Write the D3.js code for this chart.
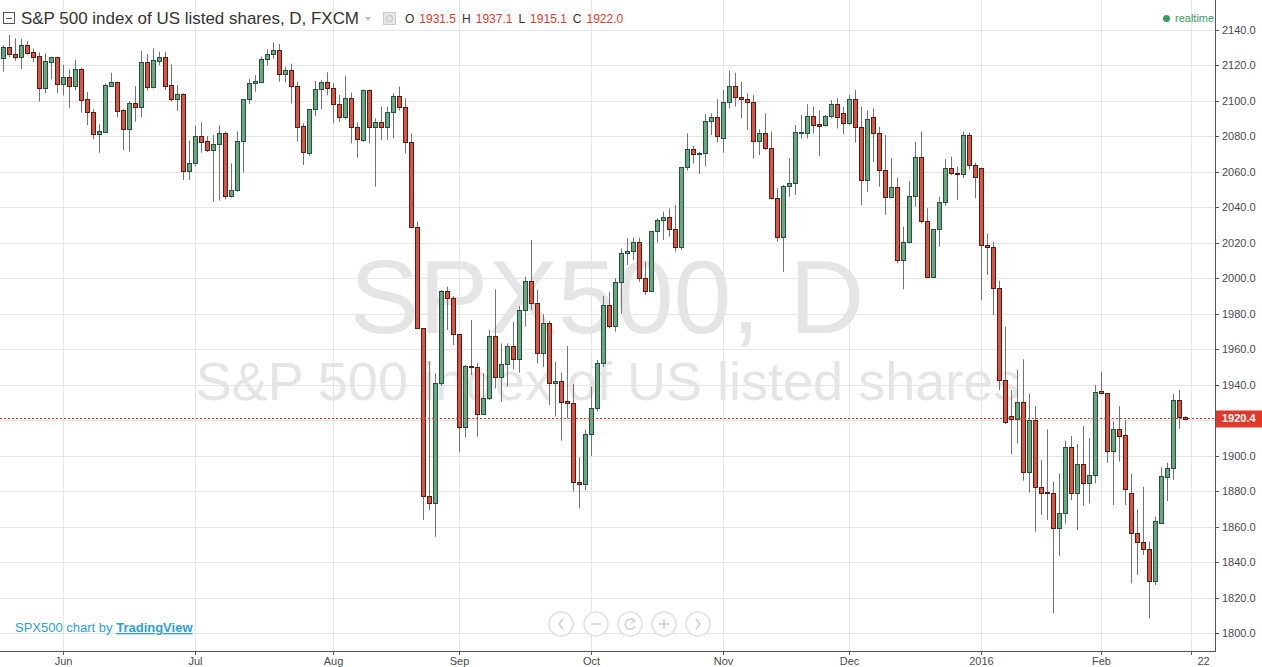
<!DOCTYPE html>
<html><head><meta charset="utf-8">
<script src="https://cdn.jsdelivr.net/npm/d3@7/dist/d3.min.js"></script>
<style>
html,body{margin:0;padding:0;background:#fff;overflow:hidden}
svg{display:block;font-family:"Liberation Sans",Arial,sans-serif}
</style></head><body>
<svg id="c" width="1262" height="667"></svg>
<script>
// ---- data (daily candles, index 0 = 18 May 2015 ... 197 = 19 Feb 2016) ----
const openV=[2124.0,2130.2,2126.5,2124.6,2131.5,2127.4,2125.2,2107.5,2122.1,2124.6,
2109.4,2113.3,2108.6,2117.8,2100.9,2093.8,2081.5,2082.7,2108.6,2110.5,
2094.7,2084.4,2098.8,2096.8,2121.8,2108.0,2122.7,2124.6,2108.8,2101.3,
2103.7,2060.7,2064.8,2080.0,2077.2,2072.5,2075.5,2081.7,2046.6,2049.6,
2077.4,2100.9,2109.9,2110.9,2123.5,2126.3,2128.7,2115.0,2117.3,2108.2,
2085.7,2070.8,2095.3,2106.5,2110.5,2107.1,2098.3,2090.8,2101.5,2085.1,
2078.0,2106.2,2085.5,2088.3,2085.1,2094.0,2102.8,2096.4,2076.7,2029.1,
1971.8,1877.2,1873.1,1940.8,1992.8,1988.7,1968.4,1916.0,1950.7,1949.8,
1923.3,1932.3,1967.5,1944.1,1951.5,1961.6,1954.3,1982.0,1998.5,1985.9,
1957.7,1974.6,1940.8,1942.3,1930.8,1929.5,1884.9,1883.8,1912.2,1926.7,
1952.0,1984.9,1973.3,1997.7,2014.1,2015.4,2020.3,2000.0,1993.0,2026.7,
2032.9,2034.7,2027.6,2017.4,2062.6,2072.9,2069.9,2070.4,2088.7,2090.8,
2078.9,2099.6,2108.4,2102.0,2100.9,2099.2,2077.6,2081.7,2073.3,2045.1,
2023.5,2052.0,2053.5,2082.3,2082.1,2091.5,2087.0,2086.4,2091.5,2098.3,
2093.0,2087.4,2100.9,2085.1,2055.4,2090.7,2082.1,2061.1,2046.0,2051.3,
2010.3,2020.6,2046.4,2068.2,2032.1,2000.9,2027.6,2043.2,2062.0,2059.5,
2058.8,2080.8,2063.9,2062.4,2018.8,2017.8,1994.3,1942.6,1922.3,1920.4,
1930.4,1891.0,1920.1,1882.1,1879.5,1879.1,1859.0,1867.8,1905.1,1878.7,
1895.1,1884.4,1888.9,1936.3,1935.1,1902.8,1914.8,1911.5,1878.7,1856.6,
1851.5,1847.2,1829.5,1862.2,1888.1,1892.9,1931.5,1922.0];
const highV=[2131.5,2137.2,2135.3,2134.9,2133.8,2129.5,2127.4,2126.8,2125.0,2125.0,
2120.3,2117.8,2123.1,2118.8,2105.0,2095.5,2086.8,2109.9,2115.9,2110.9,
2095.5,2100.0,2108.4,2128.3,2126.3,2129.7,2127.8,2127.8,2120.6,2109.0,
2104.3,2077.6,2086.1,2087.9,2080.2,2080.8,2086.2,2082.7,2064.8,2082.7,
2101.1,2112.4,2114.6,2125.0,2129.1,2133.0,2132.1,2119.3,2121.0,2110.9,
2087.4,2095.5,2111.2,2111.8,2116.1,2109.9,2103.3,2114.2,2104.7,2087.9,
2106.5,2106.5,2090.2,2096.8,2096.8,2104.3,2108.1,2101.5,2081.7,2031.9,
1971.8,1953.0,1946.4,1993.4,1995.3,1990.0,1968.4,1951.1,1976.5,1952.2,
1946.4,1970.9,1993.8,1963.3,1963.3,1975.5,1984.4,2000.9,2021.6,1993.4,
1979.9,1976.1,1953.0,1946.8,1961.8,1940.4,1899.0,1914.8,1938.9,1954.0,
1990.0,1992.4,2000.0,2016.9,2022.5,2022.9,2022.9,2009.4,2026.7,2033.8,
2037.6,2039.4,2041.3,2062.6,2081.7,2074.6,2071.4,2092.6,2093.0,2100.9,
2106.2,2117.1,2115.9,2110.9,2104.3,2103.3,2084.0,2093.0,2082.7,2050.7,
2052.6,2067.6,2086.4,2092.1,2098.1,2096.8,2094.5,2092.1,2100.5,2101.5,
2096.8,2103.3,2106.2,2096.8,2094.5,2095.8,2085.5,2080.8,2067.6,2056.9,
2029.1,2054.8,2077.0,2082.7,2039.4,2027.6,2046.0,2067.2,2068.6,2062.9,
2082.7,2082.1,2065.2,2062.4,2025.3,2020.6,1998.6,1972.7,1937.0,1948.3,
1954.3,1935.1,1928.0,1897.5,1914.8,1885.3,1890.0,1908.4,1911.1,1906.6,
1916.7,1909.8,1939.8,1947.3,1935.1,1919.2,1928.0,1920.1,1890.0,1869.7,
1882.5,1851.5,1865.6,1893.4,1896.0,1934.8,1937.1,1922.2];
const lowV=[2116.5,2124.6,2122.7,2118.0,2126.1,2122.0,2099.6,2104.3,2112.2,2104.3,
2103.0,2096.2,2106.2,2093.4,2086.4,2078.5,2070.8,2082.3,2108.4,2090.8,
2072.3,2071.4,2088.3,2090.8,2105.8,2107.0,2120.1,2106.2,2099.8,2094.3,
2055.4,2055.4,2062.9,2070.8,2071.2,2043.2,2043.8,2044.5,2045.5,2048.8,
2059.6,2098.3,2105.2,2109.9,2120.1,2123.8,2110.9,2110.5,2098.6,2077.0,
2063.9,2069.0,2091.5,2095.3,2103.2,2087.4,2088.3,2089.6,2076.1,2068.0,
2077.0,2076.1,2051.7,2078.0,2078.0,2078.9,2094.5,2070.5,2028.5,1971.3,
1863.7,1869.3,1854.3,1939.3,1970.8,1962.4,1902.2,1910.3,1945.4,1910.7,
1922.9,1931.4,1937.9,1930.4,1938.9,1948.7,1946.8,1972.7,1982.1,1952.1,
1949.8,1928.6,1922.0,1908.4,1921.0,1879.7,1870.3,1880.6,1899.8,1925.0,
1950.0,1971.8,1969.9,1980.2,2007.5,2010.3,1998.0,1990.6,1992.5,2020.1,
2021.6,2023.5,2015.0,2016.0,2060.7,2064.8,2058.8,2063.3,2080.8,2076.5,
2070.8,2095.8,2096.8,2090.2,2083.6,2067.6,2069.5,2072.3,2044.5,2020.6,
2003.7,2046.0,2047.0,2078.9,2078.9,2081.7,2069.0,2085.5,2090.2,2084.5,
2081.4,2086.4,2076.5,2041.3,2048.8,2065.8,2051.7,2035.7,2045.1,2008.4,
1993.8,2019.7,2040.4,2031.0,2000.5,2000.5,2017.8,2040.8,2058.2,2044.1,
2056.4,2061.4,2045.1,1987.7,2001.9,1979.3,1937.0,1917.8,1900.7,1906.9,
1885.9,1879.1,1857.1,1866.5,1863.7,1811.1,1843.4,1861.8,1875.0,1858.1,
1871.6,1873.1,1884.4,1934.5,1896.0,1872.2,1896.6,1872.2,1828.0,1832.7,
1844.0,1808.3,1827.1,1862.2,1874.4,1886.3,1915.1,1920.0];
const closeV=[2130.2,2126.3,2124.6,2131.5,2127.2,2125.0,2107.5,2122.3,2124.6,2109.4,
2113.3,2108.6,2117.8,2100.7,2093.6,2081.5,2083.0,2109.0,2110.5,2094.1,
2084.4,2098.8,2096.8,2121.8,2108.0,2123.1,2124.6,2108.6,2101.3,2103.7,
2060.7,2064.8,2080.0,2077.0,2072.5,2075.7,2081.7,2046.6,2049.6,2077.4,
2101.1,2109.9,2111.2,2123.5,2126.5,2128.7,2115.0,2117.3,2108.2,2085.5,
2071.0,2095.5,2106.5,2110.5,2107.1,2098.3,2090.8,2101.5,2085.1,2078.3,
2106.2,2085.5,2088.3,2085.1,2094.0,2102.8,2096.4,2076.7,2029.1,1971.8,
1877.2,1873.1,1940.8,1992.8,1988.7,1968.4,1916.0,1950.7,1949.8,1923.4,
1932.3,1967.5,1944.1,1951.5,1962.0,1954.3,1982.1,1998.5,1985.9,1957.7,
1974.6,1940.8,1942.3,1930.4,1929.5,1884.9,1883.8,1912.2,1926.7,1952.0,
1984.9,1973.3,1997.7,2014.1,2015.4,2020.3,2000.0,1993.0,2026.7,2032.9,
2034.7,2027.6,2017.4,2062.6,2072.9,2069.9,2070.8,2088.7,2091.1,2080.2,
2099.6,2108.4,2102.0,2100.9,2099.2,2077.6,2081.7,2073.3,2045.1,2023.5,
2052.0,2053.5,2082.7,2082.7,2091.5,2086.4,2086.0,2091.5,2098.1,2090.8,
2087.4,2100.9,2085.1,2055.4,2089.6,2081.7,2061.1,2046.0,2051.3,2010.3,
2020.6,2046.4,2068.2,2032.1,2000.9,2027.6,2043.2,2062.0,2059.2,2058.8,
2080.8,2063.9,2057.3,2018.8,2017.8,1994.3,1942.6,1919.2,1920.4,1930.4,
1891.0,1920.1,1882.1,1879.1,1879.2,1859.0,1867.8,1905.1,1878.7,1895.1,
1884.4,1888.9,1936.1,1935.1,1902.8,1914.8,1911.3,1881.0,1856.6,1851.5,
1847.2,1829.5,1863.2,1888.5,1892.9,1931.4,1922.0,1920.4];
const timeLabels=["Jun","Jul","Aug","Sep","Oct","Nov","Dec","2016","Feb","22"];
const timeIdx=[10,32,55,76,98,120,141,163,183,198];
const priceTicks=d3.range(1800,2141,20);
const lastPrice=1920.4;
const hdrLabels=["O","H","L","C"];
const hdrValues=[1931.5,1937.1,1915.1,1922.0];

// ---- layout ----
const W=1262,H=667,PW=1215,PH=651;
const svg=d3.select("#c");
const x=d3.scaleLinear().domain([-0.55,201.95]).range([0,PW]);
const y=d3.scaleLinear().domain([1800,2140]).range([633,30]);
const px=v=>Math.floor(x(v));
const bars=d3.range(openV.length).map(i=>({i,o:openV[i],h:highV[i],l:lowV[i],c:closeV[i]}));

const plot=svg.append("g");
svg.append("defs").append("clipPath").attr("id","pc").append("rect").attr("width",PW).attr("height",PH);
plot.attr("clip-path","url(#pc)");

// grid
plot.selectAll(".hg").data(priceTicks).join("line")
  .attr("x1",0).attr("x2",PW).attr("y1",d=>Math.round(y(d))+0.5).attr("y2",d=>Math.round(y(d))+0.5)
  .attr("stroke","#e6e6e6").attr("stroke-width",1);
plot.selectAll(".vg").data(timeIdx).join("line")
  .attr("x1",d=>px(d)+0.5).attr("x2",d=>px(d)+0.5).attr("y1",0).attr("y2",PH)
  .attr("stroke","#e6e6e6").attr("stroke-width",1);

// watermark
plot.append("text").attr("x",607).attr("y",333).attr("text-anchor","middle")
  .attr("font-size",104).attr("fill","#e5e5e5").text("SPX500, D");
plot.append("text").attr("x",608).attr("y",400).attr("text-anchor","middle")
  .attr("font-size",54).attr("fill","#e5e5e5").text("S&P 500 index of US listed shares");

// candles
const up="#6ba583",dn="#d75442",upB="#225437",dnB="#5b1a13",wick="#737375";
const cg=plot.append("g");
cg.selectAll(".w").data(bars).join("line")
  .attr("x1",d=>px(d.i)+0.5).attr("x2",d=>px(d.i)+0.5)
  .attr("y1",d=>y(d.h)).attr("y2",d=>y(d.l)).attr("stroke",wick).attr("stroke-width",1);
cg.selectAll(".b").data(bars).join("rect")
  .attr("x",d=>px(d.i)-1.5).attr("width",4)
  .attr("y",d=>Math.round(y(Math.max(d.o,d.c)))+0.5)
  .attr("height",d=>Math.max(1,Math.round(y(Math.min(d.o,d.c)))-Math.round(y(Math.max(d.o,d.c)))))
  .attr("fill",d=>d.c>=d.o?up:dn).attr("stroke",d=>d.c>=d.o?upB:dnB).attr("stroke-width",1);

// last price line
plot.append("line").attr("x1",0).attr("x2",PW)
  .attr("y1",Math.round(y(lastPrice))-0.5).attr("y2",Math.round(y(lastPrice))-0.5)
  .attr("stroke","#e0392b").attr("stroke-width",1).attr("stroke-dasharray","2,2");

// axes
svg.append("line").attr("x1",PW+0.5).attr("x2",PW+0.5).attr("y1",0).attr("y2",PH)
  .attr("stroke","#555").attr("stroke-width",1);
svg.append("line").attr("x1",0).attr("x2",PW+1).attr("y1",PH+0.5).attr("y2",PH+0.5)
  .attr("stroke","#555").attr("stroke-width",1);
const ya=svg.append("g");
ya.selectAll("line").data(priceTicks).join("line")
  .attr("x1",PW).attr("x2",PW+4).attr("y1",d=>Math.round(y(d))+0.5).attr("y2",d=>Math.round(y(d))+0.5)
  .attr("stroke","#555");
ya.selectAll("text").data(priceTicks).join("text")
  .attr("x",PW+7).attr("y",d=>y(d)+4).attr("font-size",11).attr("fill","#4a4a4a")
  .text(d3.format(".1f"));
const xa=svg.append("g");
xa.selectAll("line").data(timeIdx).join("line")
  .attr("x1",d=>px(d)+0.5).attr("x2",d=>px(d)+0.5).attr("y1",PH).attr("y2",PH+4).attr("stroke","#555");
xa.selectAll("text").data(timeIdx).join("text")
  .attr("x",(d,k)=>px(d)+0.5+(k===timeIdx.length-1?12:0)).attr("y",PH+14).attr("text-anchor","middle")
  .attr("font-size",11).attr("fill","#4a4a4a")
  .text((d,k)=>timeLabels[k]);

// last price label
svg.append("rect").attr("x",PW+1).attr("y",y(lastPrice)-9).attr("width",W-PW-1).attr("height",17).attr("fill","#e0392b");
svg.append("text").attr("x",PW+7).attr("y",y(lastPrice)+3).attr("font-size",11).attr("font-weight","bold")
  .attr("fill","#fff").text(d3.format(".1f")(lastPrice));

// header
const hg=svg.append("g");
hg.append("rect").attr("x",3.5).attr("y",12.5).attr("width",11).attr("height",11).attr("fill","none").attr("stroke","#555");
hg.append("line").attr("x1",6).attr("x2",12).attr("y1",18.5).attr("y2",18.5).attr("stroke","#555");
hg.append("text").attr("x",21).attr("y",24).attr("font-size",17).attr("fill","#333")
  .attr("textLength",338).attr("lengthAdjust","spacingAndGlyphs")
  .text("S&P 500 index of US listed shares, D, FXCM");
hg.append("path").attr("d","M365,17 L371,17 L368,21 Z").attr("fill","#bbb");
hg.append("rect").attr("x",383.5).attr("y",12.5).attr("width",12).attr("height",12).attr("fill","#e8e8e8").attr("stroke","#ccc");
hg.append("circle").attr("cx",389.5).attr("cy",18.5).attr("r",3).attr("fill","none").attr("stroke","#bbb");
const ht=hg.append("text").attr("x",405).attr("y",23).attr("font-size",12);
hdrLabels.forEach((l,k)=>{
  ht.append("tspan").attr("fill","#333").attr("dx",k?6:0).text(l);
  ht.append("tspan").attr("fill","#e0392b").attr("dx",5).text(d3.format(".1f")(hdrValues[k]));
});
hg.append("circle").attr("cx",1166.5).attr("cy",18.5).attr("r",3.5).attr("fill","#3a9c5b");
hg.append("text").attr("x",1175).attr("y",22).attr("font-size",11).attr("fill","#3a9c5b").text("realtime");

// branding
const bt=svg.append("text").attr("x",15).attr("y",632).attr("font-size",13).attr("fill","#2f9ed6");
bt.append("tspan").text("SPX500 chart by ");
bt.append("tspan").attr("font-weight","bold").attr("text-decoration","underline").text("TradingView");

// nav buttons
const navX=[561,596,630,664,698];
const ng=svg.append("g");
ng.selectAll("circle").data(navX).join("circle").attr("cx",d=>d).attr("cy",624).attr("r",12)
  .attr("fill","#fff").attr("stroke","#e0e0e0").attr("stroke-width",1.5);
const g0=["M563,619 L559,624 L563,629","M591,624 L601,624","","M659,624 L669,624 M664,619 L664,629","M696,619 L700,624 L696,629"];
ng.selectAll("path").data(g0).join("path").attr("d",d=>d).attr("fill","none").attr("stroke","#d0d0d0").attr("stroke-width",1.5);
ng.append("path").attr("d","M634,621 A5,5 0 1 0 635,626").attr("fill","none").attr("stroke","#d0d0d0").attr("stroke-width",1.5);
ng.append("path").attr("d","M631,618 L635,621 L631,623").attr("fill","none").attr("stroke","#d0d0d0").attr("stroke-width",1.2);
</script></body></html>
